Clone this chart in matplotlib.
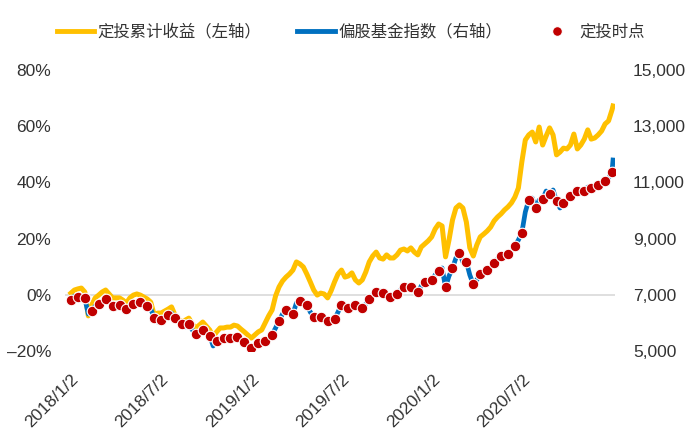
# 定投累计收益 vs 偏股基金指数, 2018-2020
import numpy as np
import pandas as pd
import matplotlib
matplotlib.use("Agg")
import matplotlib.pyplot as plt
import matplotlib.dates as mdates
from matplotlib.lines import Line2D

plt.rcParams['font.family'] = ['Liberation Sans', 'Noto Sans CJK SC', 'DejaVu Sans']

# weekly observation dates (every 7 days from 2018/1/2) plus the last trading day
weekly_dates = list(pd.date_range('2018-01-02', periods=157, freq='7D')) + [pd.Timestamp('2020-12-31')]

# cumulative return of the DCA plan, % (left axis)
dca_return = [
    0.6, 1.7, 2.1, 2.4, 1.0, -7.5, -3.6, -1.1, -0.1, 1.0,
    1.7, 0.3, -1.1, -1.1, -1.1, -1.9, -2.9, -1.1, -0.1, 0.3,
    -0.1, -0.8, -1.5, -2.6, -7.2, -6.5, -6.5, -5.8, -5.1, -4.3,
    -7.2, -8.6, -9.7, -9.0, -8.3, -10.4, -11.8, -10.8, -9.7, -11.1,
    -12.5, -15.0, -13.2, -11.8, -11.8, -11.5, -11.5, -10.8, -11.1, -12.2,
    -13.2, -14.3, -15.4, -14.3, -13.2, -12.5, -10.0, -7.5, -5.4, -0.4,
    2.8, 4.9, 6.3, 7.4, 8.8, 11.7, 11.0, 9.9, 7.4, 4.6,
    1.7, -0.1, 0.6, 0.3, -1.1, 1.4, 4.6, 7.4, 8.8, 6.3,
    6.7, 7.8, 5.3, 4.2, 5.3, 8.1, 11.7, 13.8, 15.2, 13.1,
    12.7, 14.2, 13.1, 13.1, 14.2, 15.9, 16.3, 15.6, 16.7, 15.2,
    14.2, 17.0, 18.1, 19.2, 20.6, 23.4, 25.2, 24.5, 13.5, 19.5,
    26.6, 30.9, 32.0, 30.9, 25.9, 16.7, 13.8, 17.7, 20.6, 21.6,
    22.7, 24.1, 26.3, 27.7, 28.8, 30.2, 31.3, 32.7, 34.8, 38.0,
    47.3, 55.1, 56.9, 57.9, 54.4, 59.7, 53.3, 56.5, 59.4, 56.9,
    49.8, 50.8, 52.2, 51.9, 53.3, 57.2, 51.9, 53.3, 55.4, 58.7,
    55.4, 55.8, 56.9, 58.3, 60.8, 61.9, 65.8, 67.2,
]

# equity fund index level (right axis)
fund_index = [
    6815, 6957, 6932, 6851, 6875, 6317, 6434, 6601, 6673, 6779,
    6833, 6708, 6601, 6601, 6637, 6601, 6484, 6637, 6662, 6708,
    6744, 6708, 6601, 6495, 6192, 6032, 6103, 6174, 6281, 6352,
    6157, 6032, 5961, 5854, 5961, 5747, 5605, 5676, 5765, 5676,
    5544, 5178, 5356, 5391, 5445, 5427, 5445, 5498, 5516, 5391,
    5310, 5214, 5117, 5178, 5302, 5356, 5356, 5463, 5587, 5819,
    6078, 6317, 6470, 6423, 6317, 6708, 6779, 6744, 6637, 6388,
    6199, 6174, 6199, 6103, 6068, 6032, 6128, 6388, 6637, 6601,
    6520, 6566, 6637, 6566, 6520, 6673, 6840, 6993, 7089, 7135,
    7053, 6957, 6911, 6957, 7028, 7171, 7267, 7278, 7288, 7171,
    7100, 7313, 7466, 7491, 7527, 7705, 7858, 7954, 7267, 7669,
    7943, 8310, 8498, 8167, 8178, 7705, 7374, 7527, 7740, 7776,
    7883, 7954, 8142, 8274, 8391, 8345, 8441, 8523, 8737, 8950,
    9210, 9947, 10374, 10445, 10100, 10374, 10399, 10694, 10587, 10730,
    10338, 10089, 10256, 10374, 10516, 10658, 10694, 10623, 10705, 10836,
    10790, 10801, 10907, 10979, 11060, 11157, 11381, 11797,
]

# investment every two weeks, at the index level of that day
dca_dates = weekly_dates[:157:2]
dca_points = fund_index[:157:2]

tick_dates = ['2018-01-02', '2018-07-02', '2019-01-02', '2019-07-02', '2020-01-02', '2020-07-02']
tick_labels = ['2018/1/2', '2018/7/2', '2019/1/2', '2019/7/2', '2020/1/2', '2020/7/2']

yellow = '#FFC000'
blue = '#0070C0'
red = '#C00000'
text_c = '#333333'

fig = plt.figure(figsize=(7, 4.44), dpi=100)
ax = fig.add_axes([65 / 700, 1 - 351 / 444, 550 / 700, 281 / 444])
ax2 = ax.twinx()

ax.axhline(0, color='#D9D9D9', lw=1.2, zorder=1)
ax.plot(weekly_dates, dca_return, color=yellow, lw=3.6, solid_joinstyle='round', zorder=2)
ax2.plot(weekly_dates, fund_index, color=blue, lw=3.4, solid_joinstyle='round', zorder=2)
ax2.scatter(dca_dates, dca_points, s=58, color=red, edgecolors='white', linewidths=0.8, zorder=3)

ax.set_xlim(pd.Timestamp('2017-12-21'), pd.Timestamp('2021-01-04'))
ax.set_ylim(-20, 80)
ax2.set_ylim(5000, 15000)
ax.set_yticks([-20, 0, 20, 40, 60, 80])
ax.set_yticklabels(['\u201320%', '0%', '20%', '40%', '60%', '80%'])
ax2.set_yticks([5000, 7000, 9000, 11000, 13000, 15000])
ax2.set_yticklabels(['5,000', '7,000', '9,000', '11,000', '13,000', '15,000'])

ax.set_xticks([pd.Timestamp(d) for d in tick_dates])
ax.set_xticklabels(tick_labels, rotation=45, ha='right', va='top', rotation_mode='anchor')

for a in (ax, ax2):
    for s in a.spines.values():
        s.set_visible(False)
    a.tick_params(length=0, labelsize=12.5, colors=text_c)
ax.tick_params(axis='y', pad=10)
ax2.tick_params(axis='y', pad=13)
ax.tick_params(axis='x', pad=15)

handles = [
    Line2D([], [], color=yellow, lw=3.5),
    Line2D([], [], color=blue, lw=3.5),
    Line2D([], [], color=red, marker='o', ls='none', markersize=7,
           markeredgecolor='white', markeredgewidth=0.8),
]
labels = ['定投累计收益（左轴）', '偏股基金指数（右轴）', '定投时点']
fig.legend(handles, labels, loc='center left', bbox_to_anchor=(50 / 700, 1 - 32 / 444),
           ncol=3, frameon=False, handlelength=2.3, handletextpad=0.2,
           columnspacing=2.2, borderaxespad=0, prop={'family': ['Noto Sans CJK SC'], 'size': 11.8},
           labelcolor=text_c)

fig.savefig('out.png', dpi=100)
